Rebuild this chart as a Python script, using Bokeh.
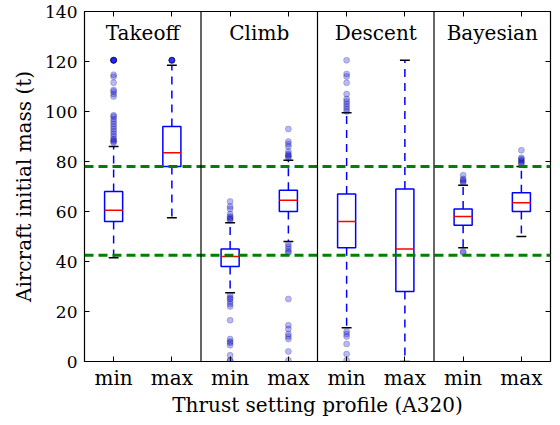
from bokeh.plotting import figure
from bokeh.models import Span, LinearAxis, FixedTicker, ColumnDataSource, CustomJSTickFormatter
from bokeh.core.properties import value
from bokeh.embed import file_html
from bokeh.resources import INLINE

phases = ["Takeoff", "Climb", "Descent", "Bayesian"]
profiles = ["min", "max"]

# order: Takeoff min, Takeoff max, Climb min, Climb max, Descent min, Descent max, Bayesian min, Bayesian max
q1 = [56.0, 78.0, 38.0, 60.0, 45.5, 28.0, 54.5, 60.0]
median = [60.5, 83.5, 42.0, 64.5, 56.0, 45.0, 58.0, 63.5]
q3 = [68.0, 94.0, 45.0, 68.5, 67.0, 69.0, 61.0, 67.5]
whisk_lo = [41.5, 57.5, 27.5, 48.0, 13.5, 0.0, 45.5, 50.0]
whisk_hi = [86.0, 118.5, 55.5, 80.5, 99.5, 120.5, 70.5, 78.0]

outliers = [
    [87.5, 88, 88.5, 89, 90, 91, 92, 93, 94, 95, 96, 97, 98, 98.5, 106, 107, 108, 108.6,
     111.5, 113.9, 114.7, 120.5, 120.5, 120.5, 120.5, 120.5, 120.5],
    [120.5, 120.5, 120.5, 120.5, 120.5],
    [56.5, 57, 57.5, 58, 59, 61, 62, 64,
     26.5, 25.5, 25, 24, 23, 22, 16.5, 9, 8, 7.5, 6.5, 2.5, 0.5, 0.3],
    [81.5, 82, 82.5, 83, 84, 86, 87, 88, 93,
     47, 46, 45, 44, 43.5, 25, 14.5, 13, 11, 10, 9, 4, 0.5],
    [100, 101, 102, 103, 104, 105, 107, 111.5, 114, 115, 120.5,
     12, 11, 10, 7, 3, 0.5],
    [],
    [71.5, 72, 72.5, 73, 74.5, 43.5, 44],
    [79, 79.5, 80, 80.5, 81, 81.5, 84.5],
]

ref_low = 42.5
ref_high = 78.0

FONT = "DejaVu Serif"
FS = "20px"
FS_Y = "17px"

positions = [i + 1 for i in range(len(q1))]
tick_labels = [profiles[i % 2] for i in range(len(q1))]
bw = 0.31
cw = 0.17

p = figure(frame_width=466, frame_height=350, x_range=(0.5, 8.5), y_range=(0, 140),
           output_backend="svg", toolbar_location=None,
           min_border_left=84, min_border_top=11, min_border_right=4, min_border_bottom=2)
p.background_fill_color = "white"
p.border_fill_color = "white"
p.grid.visible = False
p.outline_line_color = "black"
p.outline_line_width = 1.2

src = ColumnDataSource(dict(
    x=positions, left=[x - bw / 2 for x in positions], right=[x + bw / 2 for x in positions],
    cl=[x - cw / 2 for x in positions], cr=[x + cw / 2 for x in positions],
    q1=q1, q3=q3, med=median, lo=whisk_lo, hi=whisk_hi))

# whiskers
p.segment(x0="x", y0="q3", x1="x", y1="hi", source=src, line_color="blue", line_width=1.5, line_dash="8 6")
p.segment(x0="x", y0="q1", x1="x", y1="lo", source=src, line_color="blue", line_width=1.5, line_dash="8 6")
# caps
p.segment(x0="cl", y0="hi", x1="cr", y1="hi", source=src, line_color="black", line_width=1.5)
p.segment(x0="cl", y0="lo", x1="cr", y1="lo", source=src, line_color="black", line_width=1.5)
# boxes
p.quad(left="left", right="right", bottom="q1", top="q3", source=src,
       fill_color="white", fill_alpha=0.0, line_color="blue", line_width=1.5)
# medians
p.segment(x0="left", y0="med", x1="right", y1="med", source=src, line_color="red", line_width=1.5)

# outliers
fx, fy = [], []
for i, vals in enumerate(outliers):
    for v in vals:
        fx.append(positions[i])
        fy.append(v)
p.scatter(fx, fy, size=6, fill_color="blue", fill_alpha=0.28, line_color="black", line_alpha=0.2)

# reference lines
for loc in (ref_low, ref_high):
    p.add_layout(Span(location=loc, dimension="width", line_color="green",
                      line_width=3, line_dash="9 5"))

# panel separators
for k in range(1, len(phases)):
    p.add_layout(Span(location=2 * k + 0.5, dimension="height", line_color="black", line_width=1.2))

# panel titles
p.text(x=[2 * k + 1.5 for k in range(len(phases))], y=[131.5] * len(phases), text=phases,
       text_font=value(FONT), text_font_size=FS, text_align="center", text_baseline="middle",
       text_color="black")

# axes
xt = FixedTicker(ticks=positions)
yt = FixedTicker(ticks=[0, 20, 40, 60, 80, 100, 120, 140])

p.xaxis.ticker = xt
p.xaxis.major_label_overrides = {pos: lab for pos, lab in zip(positions, tick_labels)}
p.yaxis.ticker = yt
p.xaxis.axis_label = "Thrust setting profile (A320)"
p.yaxis.axis_label = "Aircraft initial mass (t)"

for ax in (p.xaxis[0], p.yaxis[0]):
    ax.major_tick_in = 5
    ax.major_tick_out = 0
    ax.minor_tick_line_color = None
    ax.major_label_text_font = FONT
    ax.major_label_text_font_size = FS
    ax.axis_label_text_font = FONT
    ax.axis_label_text_font_size = FS
    ax.axis_label_text_font_style = "normal"
    ax.major_label_text_color = "black"
    ax.axis_label_text_color = "black"
    ax.axis_line_color = "black"
    ax.major_tick_line_color = "black"

p.yaxis.major_label_text_font_size = FS_Y
p.xaxis.major_label_standoff = 4
p.xaxis.axis_label_standoff = 0
p.yaxis.major_label_standoff = 7
p.yaxis.axis_label_standoff = 6

blank = CustomJSTickFormatter(code="return '';")
top = LinearAxis(ticker=xt, major_tick_in=5, major_tick_out=0, minor_tick_line_color=None,
                 formatter=blank, major_label_standoff=0, axis_line_color="black")
right = LinearAxis(ticker=yt, major_tick_in=5, major_tick_out=0, minor_tick_line_color=None,
                   formatter=CustomJSTickFormatter(code="return '';"), major_label_standoff=0,
                   axis_line_color="black")
p.add_layout(top, "above")
p.add_layout(right, "right")

open("out.html", "w").write(file_html(p, INLINE))
